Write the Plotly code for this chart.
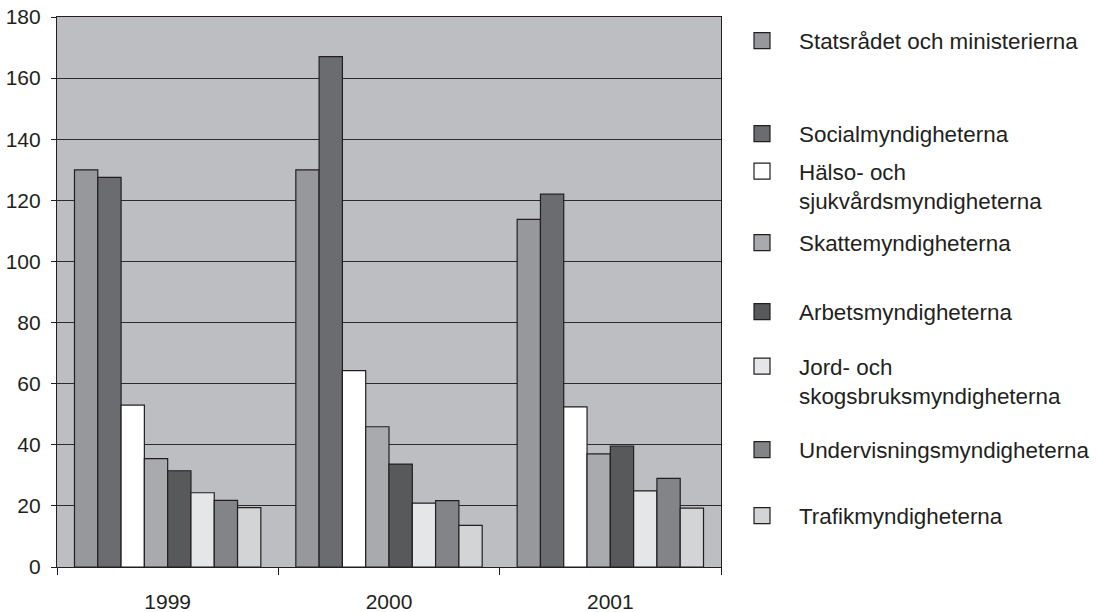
import plotly.graph_objects as go

# ---------------- data ----------------
years = ["1999", "2000", "2001"]

series_names = [
    "Statsrådet och ministerierna",
    "Socialmyndigheterna",
    "Hälso- och<br>sjukvårdsmyndigheterna",
    "Skattemyndigheterna",
    "Arbetsmyndigheterna",
    "Jord- och<br>skogsbruksmyndigheterna",
    "Undervisningsmyndigheterna",
    "Trafikmyndigheterna",
]

statsradet = [130, 130, 113.8]
social = [127.5, 167, 122]
halso = [53, 64.3, 52.4]
skatte = [35.5, 45.9, 37]
arbets = [31.5, 33.7, 39.6]
jord = [24.3, 20.9, 24.9]
underv = [21.8, 21.7, 29]
trafik = [19.4, 13.6, 19.3]

y_ticks = [0, 20, 40, 60, 80, 100, 120, 140, 160, 180]

# ---------------- style ----------------
values = [statsradet, social, halso, skatte, arbets, jord, underv, trafik]
colors = ["#97989c", "#6b6c70", "#ffffff", "#a9aaad",
          "#58595b", "#e5e6e8", "#838487", "#d3d4d6"]
outline = "#231f20"
font_family = "Liberation Sans, Arial, Helvetica, sans-serif"

# vertical pixel centre of each legend entry (in the 612 px tall page)
legend_y_px = [41, 134, 186, 243, 312, 381, 450, 516]
legend_x_px = 725

W, H = 1096, 612

fig = go.Figure()

for i, (name, vals, col) in enumerate(zip(series_names, values, colors)):
    fig.add_trace(go.Bar(
        x=years, y=vals, name=name,
        marker=dict(color=col, line=dict(color=outline, width=1.2)),
        showlegend=False, legendgroup=f"g{i}",
    ))

for i, (name, col) in enumerate(zip(series_names, colors)):
    lg = "legend" if i == 0 else f"legend{i + 1}"
    fig.add_trace(go.Scatter(
        x=[None], y=[None], mode="markers", name=name,
        marker=dict(symbol="square", size=18, color=col,
                    line=dict(color=outline, width=1.2)),
        legend=lg, legendgroup=f"g{i}", showlegend=True,
        hoverinfo="skip",
    ))

layout_legends = {}
for i in range(len(series_names)):
    key = "legend" if i == 0 else f"legend{i + 1}"
    layout_legends[key] = dict(
        xref="container", yref="container",
        x=legend_x_px / W, y=1 - legend_y_px[i] / H,
        xanchor="left", yanchor="middle",
        bgcolor="rgba(0,0,0,0)", borderwidth=0,
        font=dict(family=font_family, size=22.4, color=outline),
        itemwidth=64, itemsizing="trace", valign="top",
    )

fig.update_layout(
    width=W, height=H,
    margin=dict(l=57, r=375, t=17, b=45, autoexpand=False),
    paper_bgcolor="white",
    plot_bgcolor="#bdbec2",
    barmode="group",
    bargap=0.158,
    bargroupgap=0,
    font=dict(family=font_family, size=21, color=outline),
    **layout_legends,
)

fig.update_xaxes(
    type="category", automargin=False,
    showline=True, linecolor=outline, linewidth=1.2, mirror=True,
    ticks="outside", tickson="boundaries", ticklen=7,
    tickcolor=outline, tickwidth=1.2,
    showgrid=False,
    ticklabelstandoff=16,
    tickfont=dict(size=21, family=font_family, color=outline),
)

fig.update_yaxes(
    range=[0, 180], tickvals=y_ticks, automargin=False,
    showline=True, linecolor=outline, linewidth=1.2, mirror=True,
    ticks="outside", ticklen=5, tickcolor=outline, tickwidth=1.2,
    showgrid=True, gridcolor="#2b2b2d", gridwidth=1.2,
    zeroline=False,
    ticklabelstandoff=6,
    tickfont=dict(size=21, family=font_family, color=outline),
)

fig.write_html("out.html")
